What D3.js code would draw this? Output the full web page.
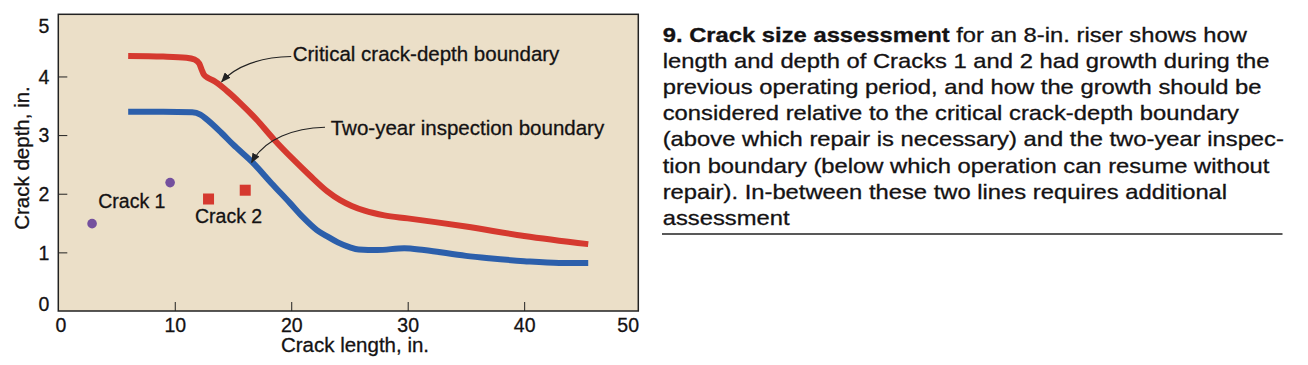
<!DOCTYPE html>
<html>
<head>
<meta charset="utf-8">
<script src="https://cdn.jsdelivr.net/npm/d3@7"></script>
<style>
  body { margin: 0; background: #fff; }
  text { font-family: "Liberation Sans", Arial, Helvetica, sans-serif; fill: #141213; stroke: #141213; stroke-width: 0.3px; }
</style>
</head>
<body>
<div id="chart"></div>
<script>
// ---- data ----
var xTicks = [0, 10, 20, 30, 40, 50];
var yTicks = [0, 1, 2, 3, 4, 5];

var criticalX = [6, 9, 11, 11.7, 12.1, 12.3, 12.5, 12.9, 13.4, 14.5, 15.6, 17, 18.5, 20.2, 21.6, 23.1, 24.2, 25.2, 26.3, 28, 30, 35, 40, 45.5];
var criticalY = [4.35, 4.34, 4.32, 4.29, 4.22, 4.12, 4.03, 3.97, 3.92, 3.75, 3.55, 3.27, 2.93, 2.58, 2.31, 2.04, 1.89, 1.79, 1.71, 1.63, 1.58, 1.44, 1.28, 1.14];

var inspectionX = [6, 9, 11.5, 12.2, 12.8, 14, 15, 16.7, 18.3, 19.9, 21, 22.2, 23.2, 24, 25, 25.8, 27.4, 29.7, 31.4, 35, 37, 40, 43, 45.5];
var inspectionY = [3.40, 3.40, 3.39, 3.35, 3.26, 3.04, 2.84, 2.53, 2.18, 1.84, 1.60, 1.38, 1.26, 1.17, 1.09, 1.05, 1.04, 1.07, 1.04, 0.94, 0.90, 0.85, 0.82, 0.82];

var crack1X = [2.9, 9.6];
var crack1Y = [1.49, 2.19];
var crack2X = [12.9, 16.05];
var crack2Y = [1.91, 2.06];

var captionBold = "9. Crack size assessment";
var captionLines = [
  " for an 8-in. riser shows how",
  "length and depth of Cracks 1 and 2 had growth during the",
  "previous operating period, and how the growth should be",
  "considered relative to the critical crack-depth boundary",
  "(above which repair is necessary) and the two-year inspec-",
  "tion boundary (below which operation can resume without",
  "repair). In-between these two lines requires additional",
  "assessment"
];

var W = 1308, H = 365;
var svg = d3.select("#chart").append("svg")
  .attr("width", W)
  .attr("height", H);

svg.append("defs").append("marker")
  .attr("id", "arrow")
  .attr("markerUnits", "userSpaceOnUse")
  .attr("markerWidth", 10).attr("markerHeight", 8)
  .attr("refX", 9).attr("refY", 4)
  .attr("orient", "auto")
  .append("path")
  .attr("d", "M0,0 L10,4 L0,8 Z")
  .attr("fill", "#222");

var x = d3.scaleLinear().domain([0, 49.8]).range([58.3, 638.3]);
var y = d3.scaleLinear().domain([0, 5.06]).range([311, 14.3]);

// plot background + frame
svg.append("rect")
  .attr("x", x(0)).attr("y", y(5.06))
  .attr("width", x(49.8) - x(0)).attr("height", y(0) - y(5.06))
  .attr("fill", "#ebdfc8");

var xAxis = d3.axisBottom(x).tickValues(xTicks).tickFormat(d3.format("d"))
  .tickSizeInner(-9).tickSizeOuter(0).tickPadding(9);
var yAxis = d3.axisLeft(y).tickValues(yTicks).tickFormat(d3.format("d"))
  .tickSizeInner(-9).tickSizeOuter(0).tickPadding(9);

var gx = svg.append("g").attr("transform", "translate(0," + y(0) + ")").call(xAxis);
var gy = svg.append("g").attr("transform", "translate(" + x(0) + ",0)").call(yAxis);
[gx, gy].forEach(function(g){
  g.select(".domain").remove();
  g.selectAll("line").attr("stroke", "#222").attr("stroke-width", 1);
  g.selectAll("text").style("font-size", "19.5px").attr("fill", "#141213");
});
gx.selectAll(".tick").filter(function(d){ return d === 0 || d === 50; }).select("line").remove();
gy.selectAll(".tick").filter(function(d){ return d === 0 || d === 5; }).select("line").remove();
gx.selectAll("text").attr("y", 20.5).attr("dy", null)
  .attr("dx", function(d){ return d === 0 ? 2 : (d === 50 ? -13 : 0); });
gy.selectAll("text").attr("dy", function(d){
  return d === 5 ? "0.75em" : (d === 0 ? "-0.05em" : "0.34em");
});

svg.append("rect")
  .attr("x", x(0)).attr("y", y(5.06))
  .attr("width", x(49.8) - x(0)).attr("height", y(0) - y(5.06))
  .attr("fill", "none").attr("stroke", "#222").attr("stroke-width", 1.5);

// boundaries
var line = d3.line()
  .x(function(d){ return x(d[0]); })
  .y(function(d){ return y(d[1]); })
  .curve(d3.curveMonotoneX);

svg.append("path")
  .datum(d3.zip(criticalX, criticalY))
  .attr("d", line)
  .attr("fill", "none").attr("stroke", "#d5392f").attr("stroke-width", 6);

svg.append("path")
  .datum(d3.zip(inspectionX, inspectionY))
  .attr("d", line)
  .attr("fill", "none").attr("stroke", "#2c5fab").attr("stroke-width", 6);

// cracks
svg.selectAll(".crack1")
  .data(d3.zip(crack1X, crack1Y))
  .enter().append("circle")
  .attr("class", "crack1")
  .attr("cx", function(d){ return x(d[0]); })
  .attr("cy", function(d){ return y(d[1]); })
  .attr("r", 4.8)
  .attr("fill", "#74509e");

svg.selectAll(".crack2")
  .data(d3.zip(crack2X, crack2Y))
  .enter().append("rect")
  .attr("class", "crack2")
  .attr("x", function(d){ return x(d[0]) - 5.5; })
  .attr("y", function(d){ return y(d[1]) - 5.5; })
  .attr("width", 11).attr("height", 11)
  .attr("fill", "#d5392f");

svg.append("text").attr("x", x(3.43)).attr("y", y(1.75)).style("font-size", "19.5px").text("Crack 1");
svg.append("text").attr("x", x(11.74)).attr("y", y(1.494)).style("font-size", "19.5px").text("Crack 2");

// leaders (data units)
function leader(p){
  var path = d3.path();
  path.moveTo(x(p[0][0]), y(p[0][1]));
  path.bezierCurveTo(x(p[1][0]), y(p[1][1]), x(p[2][0]), y(p[2][1]), x(p[3][0]), y(p[3][1]));
  return path.toString();
}
svg.append("path")
  .attr("d", leader([[20.0, 4.34], [17.3, 4.33], [15.2, 4.17], [14.03, 3.91]]))
  .attr("fill", "none").attr("stroke", "#222").attr("stroke-width", 1.1)
  .attr("marker-end", "url(#arrow)");
svg.append("path")
  .attr("d", leader([[22.9, 3.134], [20.3, 3.12], [17.75, 2.95], [16.6, 2.533]]))
  .attr("fill", "none").attr("stroke", "#222").attr("stroke-width", 1.1)
  .attr("marker-end", "url(#arrow)");

svg.append("text").attr("x", x(20.13)).attr("y", y(4.264)).style("font-size", "20.5px").text("Critical crack-depth boundary");
svg.append("text").attr("x", x(23.39)).attr("y", y(3.0)).style("font-size", "20.5px").text("Two-year inspection boundary");

// axis titles
svg.append("text")
  .attr("x", 355).attr("y", 352)
  .attr("text-anchor", "middle")
  .style("font-size", "20.5px")
  .text("Crack length, in.");
svg.append("text")
  .attr("transform", "translate(29,158) rotate(-90)")
  .attr("text-anchor", "middle")
  .style("font-size", "20.5px")
  .text("Crack depth, in.");

// caption
var cap = svg.append("g");
var lines = cap.selectAll("text")
  .data(captionLines)
  .enter().append("text")
  .attr("x", 0)
  .attr("y", function(d, i){ return 41.7 + i * 26.2; })
  .style("font-size", "20px")
  .style("white-space", "pre");
lines.each(function(d, i){
  var t = d3.select(this);
  if (i === 0) t.append("tspan").style("font-weight", "bold").text(captionBold);
  t.append("tspan").text(d);
});
var refW = lines.filter(function(d, i){ return i === 1; }).node().getComputedTextLength();
var s = 607 / refW;
cap.attr("transform", "translate(662.7,0) scale(" + s + ",1)");

svg.append("line")
  .attr("x1", 662).attr("x2", 1282.5)
  .attr("y1", 234).attr("y2", 234)
  .attr("stroke", "#222").attr("stroke-width", 1.5);
</script>
</body>
</html>
